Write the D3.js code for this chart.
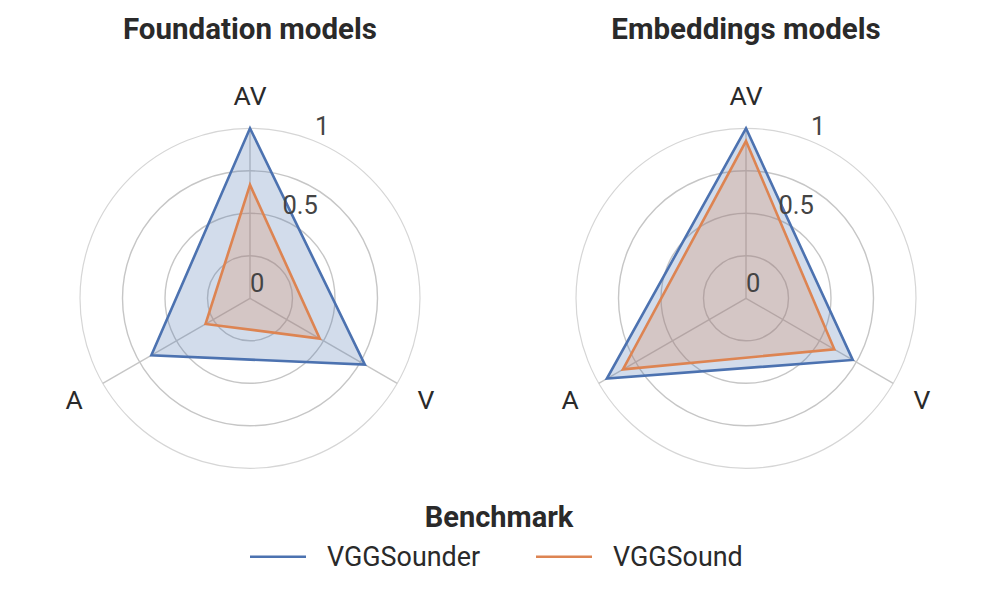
<!DOCTYPE html>
<html>
<head>
<meta charset="utf-8">
<script src="https://cdn.jsdelivr.net/npm/d3@7"></script>
<style>
  html, body { margin: 0; padding: 0; background: #fff; }
  svg { display: block; }
  text { font-family: Roboto, "Noto Sans", sans-serif; }
</style>
</head>
<body>
<svg id="chart" width="996" height="610"></svg>
<script>
// ---- data ----
const axesLabels = ["AV", "V", "A"];
const panelTitles = ["Foundation models", "Embeddings models"];
const seriesNames = ["VGGSounder", "VGGSound"];
const seriesColors = ["#4C72B0", "#DD8452"];
const foundationVGGSounder = [1.0, 0.78, 0.67];
const foundationVGGSound   = [0.667, 0.474, 0.302];
const embeddingsVGGSounder = [1.0, 0.725, 0.945];
const embeddingsVGGSound   = [0.925, 0.60, 0.836];
const tickValues = [0, 0.5, 1];
const gridValues = [0.25, 0.5, 0.75];
const legendTitle = "Benchmark";

const panels = [
  { title: panelTitles[0], series: [foundationVGGSounder, foundationVGGSound], cx: 250 },
  { title: panelTitles[1], series: [embeddingsVGGSounder, embeddingsVGGSound], cx: 746 }
];

const svg = d3.select("#chart");
const cy = 298.3;
const R = 170;
const r = d3.scaleLinear().domain([0, 1]).range([0, R]);
// angle: AV at top, then clockwise V, A
const angle = d3.scalePoint().domain(axesLabels).range([0, 2 * Math.PI * 2 / 3]);
const pt = (lab, v) => {
  const a = angle(lab);
  return [Math.sin(a) * r(v), -Math.cos(a) * r(v)];
};

panels.forEach(p => {
  const g = svg.append("g").attr("transform", `translate(${p.cx},${cy})`);

  // outer circle
  g.append("circle").attr("r", r(1)).attr("fill", "none")
    .attr("stroke", "#d6d6d6").attr("stroke-width", 1.2);
  // grid circles
  g.selectAll("circle.grid").data(gridValues).join("circle")
    .attr("class", "grid").attr("r", d => r(d)).attr("fill", "none")
    .attr("stroke", "#c6c6c6").attr("stroke-width", 1.4);
  // spokes
  g.selectAll("line.spoke").data(axesLabels).join("line")
    .attr("class", "spoke")
    .attr("x1", 0).attr("y1", 0)
    .attr("x2", d => pt(d, 1)[0]).attr("y2", d => pt(d, 1)[1])
    .attr("stroke", "#c6c6c6").attr("stroke-width", 1.4);

  // series
  const line = d3.lineRadial()
    .angle((d, i) => angle(axesLabels[i]))
    .radius(d => r(d))
    .curve(d3.curveLinearClosed);
  p.series.forEach((vals, si) => {
    g.append("path").attr("d", line(vals))
      .attr("fill", seriesColors[si]).attr("fill-opacity", 0.25)
      .attr("stroke", seriesColors[si]).attr("stroke-width", 2.6)
      .attr("stroke-linejoin", "miter");
  });

  // tick labels along a line 22.5deg clockwise from vertical
  const ta = Math.PI / 8;
  g.selectAll("text.tick").data(tickValues).join("text")
    .attr("class", "tick")
    .attr("x", d => Math.sin(ta) * r(d))
    .attr("y", d => -Math.cos(ta) * r(d) - 6)
    .attr("text-anchor", "start")
    .attr("font-size", 25.5).attr("fill", "#444")
    .text(d => d3.format("~g")(d));

  // axis labels
  g.selectAll("text.axl").data(axesLabels).join("text")
    .attr("class", "axl")
    .attr("x", d => pt(d, 1.195)[0])
    .attr("y", d => pt(d, 1.195)[1])
    .attr("text-anchor", "middle").attr("dominant-baseline", "central")
    .attr("font-size", 26.5).attr("fill", "#2a2a2a")
    .text(d => d);

  // title
  svg.append("text").attr("x", p.cx).attr("y", 38.5)
    .attr("text-anchor", "middle").attr("font-size", 29.5).attr("font-weight", "bold")
    .attr("fill", "#2a2a2a").text(p.title);
});

// legend
svg.append("text").attr("x", 499).attr("y", 526.7)
  .attr("text-anchor", "middle").attr("font-size", 29).attr("font-weight", "bold")
  .attr("fill", "#2a2a2a").text(legendTitle);
const legX = [250, 536];
seriesNames.forEach((n, i) => {
  svg.append("line").attr("x1", legX[i]).attr("x2", legX[i] + 56)
    .attr("y1", 556.7).attr("y2", 556.7)
    .attr("stroke", seriesColors[i]).attr("stroke-width", 2.6);
  svg.append("text").attr("x", legX[i] + 77).attr("y", 566)
    .attr("font-size", 26.9).attr("fill", "#2a2a2a").text(n);
});
</script>
</body>
</html>
